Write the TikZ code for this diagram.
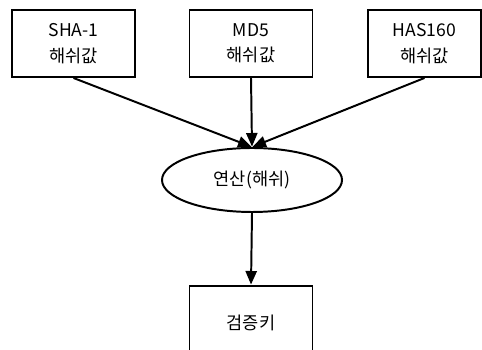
\documentclass[tikz,border=0pt]{standalone}
\usepackage{fontspec}
\setmainfont{Noto Sans CJK KR}
\usetikzlibrary{arrows.meta,positioning,shapes.geometric}
\definecolor{hkink}{HTML}{000000}
\tikzset{
  hk text/.style={font=\fontsize{12.5}{18}\selectfont, text=hkink},
  hk box/.style={draw=hkink, line width=1.4pt, fill=white,
    minimum width=30.75mm, minimum height=16.75mm, align=center, inner sep=0pt},
  hk oval/.style={ellipse, draw=hkink, line width=1.4pt, fill=white,
    minimum width=45mm, minimum height=16mm, inner sep=0pt},
  hk arrow/.style={-{Triangle[length=3.4mm,width=2.8mm]}, line width=1.4pt,
    draw=hkink, shorten >=0.3pt}
}
\begin{document}
\begin{tikzpicture}[hk text, x=1cm, y=1cm]
  \useasboundingbox (0,0) rectangle (12.05,8.725);
  \node[hk box] (sha) at (1.8375,7.6375) {SHA-1\\해쉬값};
  \node[hk box] (md5) at (6.275,7.6375) {MD5\\해쉬값};
  \node[hk box, minimum width=28.25mm] (has) at (10.6125,7.6375) {HAS160\\해쉬값};
  \node[hk oval] (op) at (6.3,4.225) {연산(해쉬)};
  \node[hk box, minimum height=18.5mm] (key) at (6.275,0.65) {검증키};
  \foreach \s in {sha,md5,has}
    \draw[hk arrow] (\s.south) -- (op.north);
  \draw[hk arrow] (op.south) -- (key.north);
\end{tikzpicture}
\end{document}
